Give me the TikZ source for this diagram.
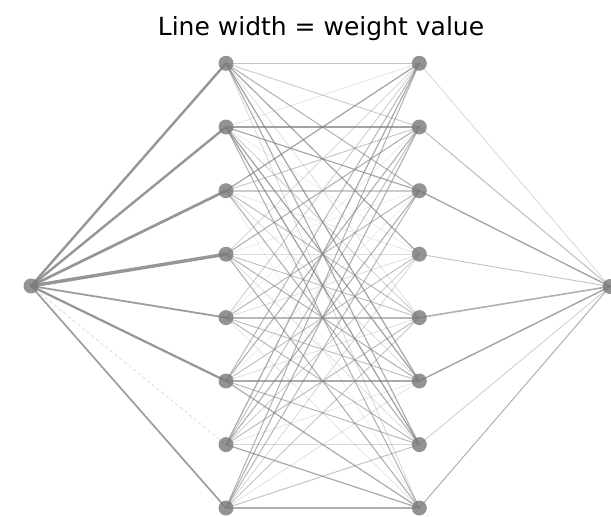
\documentclass[tikz,border=0pt]{standalone}
\usepackage{fontspec}
\setmainfont{DejaVu Sans}
\definecolor{nodegray}{HTML}{939393}
\definecolor{edgegray}{HTML}{7C7C7C}
\begin{document}
\begin{tikzpicture}[x=1pt,y=-1pt,
  neuron/.style={circle,fill=nodegray,minimum size=15pt,inner sep=0pt},
  wedge/.style={draw=edgegray,line cap=round}]
\useasboundingbox (0,0) rectangle (611,517);
\node[anchor=base,font=\fontsize{25}{30}\selectfont] (title) at (321,35) {Line width = weight value};
% nodes
\node[neuron] (in) at (31,286) {};
\node[neuron] (out) at (610,286.5) {};
\foreach \k/\y in {1/63.3,2/127,3/190.7,4/254.2,5/317.6,6/381,7/444.6,8/508}{
  \node[neuron] (a\k) at (226,\y) {};
  \node[neuron] (b\k) at (419.3,\y) {};
}
% input -> hidden 1
\foreach \j/\w/\o in {1/2.4/.8,2/2.4/.8,3/2.7/.8,4/3.4/.8,5/1.8/.75,6/2.2/.8,8/1.7/.75}{
  \draw[wedge,line width=\w,opacity=\o] (in.center) -- (a\j.center);
}
\draw[wedge,line width=0.7,opacity=.3,dash pattern=on 3pt off 3pt] (in.center) -- (a7.center);
% hidden 1 -> hidden 2
\foreach \i/\j/\w/\o in {
 1/1/1.0/.45,1/2/0.9/.4,1/3/1.0/.6,1/4/1.1/.7,1/5/0.6/.3,1/6/1.2/.7,1/7/1.1/.65,1/8/0.7/.35,
 2/1/0.6/.25,2/2/1.1/.7,2/3/1.1/.7,2/4/0.5/.2,2/5/0.8/.4,2/6/1.2/.7,2/7/1.2/.75,2/8/1.0/.6,
 3/1/1.2/.7,3/2/0.9/.45,3/3/1.6/.4,3/4/0.6/.25,3/5/1.0/.5,3/6/0.7/.3,3/7/1.1/.6,3/8/0.5/.2,
 4/1/0.7/.35,4/2/1.1/.6,4/3/0.5/.2,4/4/1.2/.25,4/5/0.9/.5,4/6/1.0/.6,4/7/0.6/.3,4/8/1.1/.6,
 5/1/0.8/.4,5/2/0.5/.2,5/3/1.0/.55,5/4/0.7/.3,5/5/1.8/.55,5/6/0.9/.5,5/7/1.0/.55,5/8/0.6/.25,
 6/1/1.0/.55,6/2/1.1/.6,6/3/0.5/.2,6/4/0.9/.5,6/5/0.7/.3,6/6/1.1/.65,6/7/1.0/.55,6/8/1.2/.65,
 7/1/1.2/.65,7/2/0.9/.5,7/3/1.1/.6,7/4/0.8/.4,7/5/1.0/.5,7/6/0.6/.25,7/7/1.5/.3,7/8/1.2/.65,
 8/1/1.0/.6,8/2/1.1/.6,8/3/1.0/.55,8/4/0.7/.35,8/5/0.9/.45,8/6/0.6/.3,8/7/1.0/.45,8/8/1.1/.6}{
  \draw[wedge,line width=\w,opacity=\o] (a\i.center) -- (b\j.center);
}
% hidden 2 -> output
\foreach \j/\w/\o in {1/0.8/.3,2/1.0/.5,3/1.3/.7,4/0.8/.5,5/1.6/.6,6/1.4/.7,7/0.9/.35,8/1.0/.6}{
  \draw[wedge,line width=\w,opacity=\o] (b\j.center) -- (out.center);
}
\end{tikzpicture}
\end{document}
